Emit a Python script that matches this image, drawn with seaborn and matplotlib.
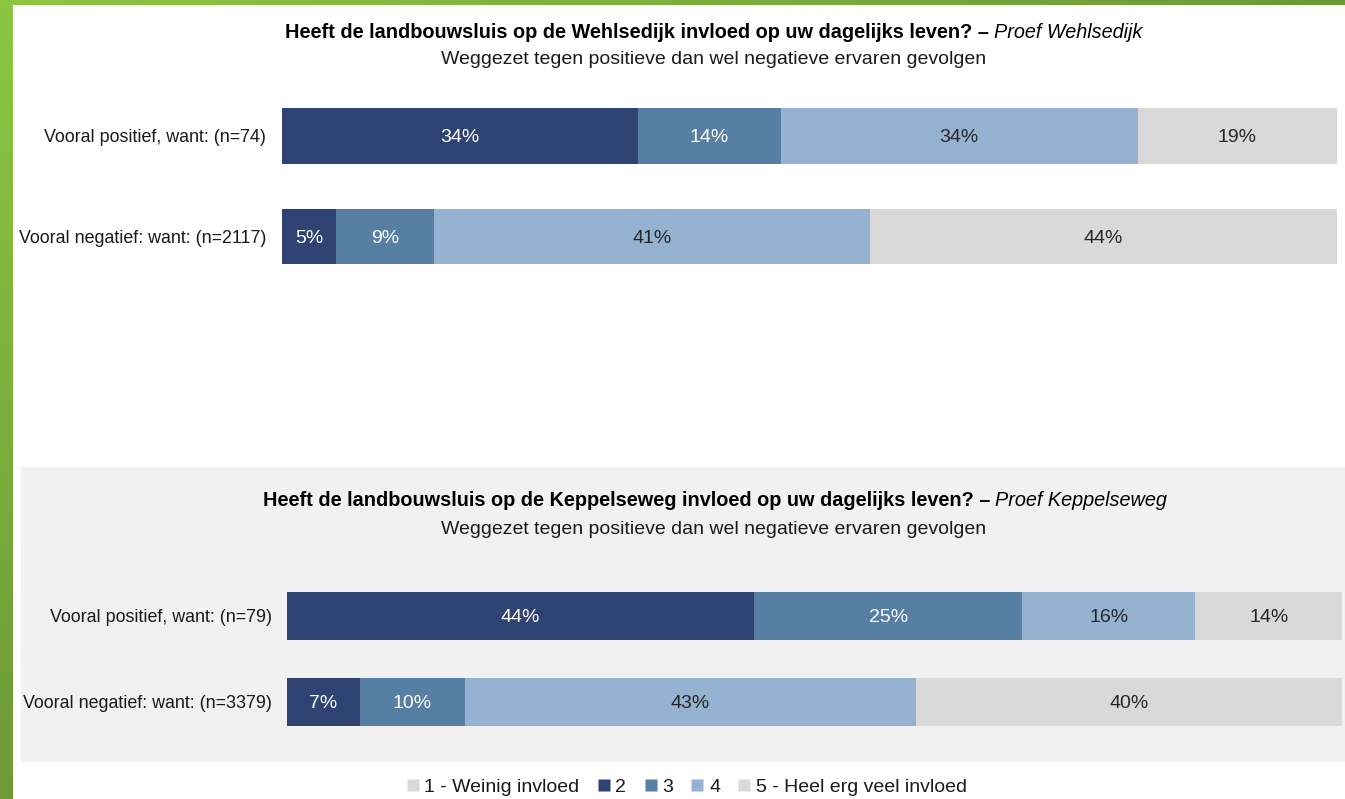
import matplotlib
matplotlib.use("Agg")
import matplotlib.pyplot as plt
import seaborn as sns
import pandas as pd
import numpy as np
from matplotlib.patches import Rectangle
from matplotlib.lines import Line2D
from matplotlib.colors import LinearSegmentedColormap

# ---------------- data ----------------
levels = ["1 - Weinig invloed", "2", "3", "4", "5 - Heel erg veel invloed"]
level_colors = ["#d9d9d9", "#2e4371", "#577ea3", "#95b3d0", "#d9d9d9"]
label_colors = ["#262626", "#ffffff", "#ffffff", "#262626", "#262626"]

cats_top = ["Vooral positief, want: (n=74)", "Vooral negatief: want: (n=2117)"]
top_l1 = [0.0, 0.0]
top_l2 = [33.7, 5.1]
top_l3 = [13.6, 9.3]
top_l4 = [33.8, 41.3]
top_l5 = [18.9, 44.3]

cats_bot = ["Vooral positief, want: (n=79)", "Vooral negatief: want: (n=3379)"]
bot_l1 = [0.0, 0.0]
bot_l2 = [44.3, 6.9]
bot_l3 = [25.4, 10.0]
bot_l4 = [16.4, 42.7]
bot_l5 = [13.9, 40.4]

title_top_bold = "Heeft de landbouwsluis op de Wehlsedijk invloed op uw dagelijks leven? \u2013"
title_top_it = "Proef Wehlsedijk"
title_bot_bold = "Heeft de landbouwsluis op de Keppelseweg invloed op uw dagelijks leven? \u2013"
title_bot_it = "Proef Keppelseweg"
subtitle = "Weggezet tegen positieve dan wel negatieve ervaren gevolgen"

# ---------------- style ----------------
sns.set_theme(style="white")
plt.rcParams["font.family"] = ["Liberation Sans", "DejaVu Sans"]

W, H = 1345, 799
fig = plt.figure(figsize=(W / 100, H / 100), dpi=100)
fig.patch.set_facecolor("white")


def fx(px):
    return px / W


def fy(py):
    return 1 - py / H


# green border (gradients) and grey panel behind the second chart
green = LinearSegmentedColormap.from_list("g", ["#8cc641", "#6c9a37"])
axl = fig.add_axes([0, 0, fx(13), 1], zorder=-10)
axl.imshow(np.linspace(0, 1, 100).reshape(-1, 1), aspect="auto", cmap=green,
           extent=[0, 1, 0, 1], origin="upper")
axl.set_axis_off()
axt = fig.add_axes([0, fy(5), 1, 5 / H], zorder=-10)
axt.imshow(np.linspace(0, 1, 100).reshape(1, -1), aspect="auto", cmap=green,
           extent=[0, 1, 0, 1])
axt.set_axis_off()
fig.patches.append(Rectangle((fx(21), fy(762)), fx(1345 - 21), (762 - 467) / H,
                             transform=fig.transFigure, facecolor="#f1f1f1",
                             edgecolor="none", zorder=-5))

TXT = 14


def draw_panel(rect, cats, series, pad):
    ax = fig.add_axes(rect)
    ax.set_facecolor("none")
    df = pd.DataFrame({"cat": cats})
    cum = [0.0] * len(cats)
    cums = []
    for s in series:
        cum = [c + v for c, v in zip(cum, s)]
        cums.append(list(cum))
    # draw from the largest cumulative to the smallest (overlapping stack)
    for i in range(len(series) - 1, -1, -1):
        d = df.copy()
        d["val"] = cums[i]
        sns.barplot(data=d, x="val", y="cat", orient="h", color=level_colors[i],
                    saturation=1, width=0.55, ax=ax, linewidth=0, zorder=2 + (len(series) - i))
    # labels
    for i, s in enumerate(series):
        for j, v in enumerate(s):
            if v <= 0:
                continue
            start = cums[i][j] - v
            ax.text(start + v / 2, j, f"{v:.0f}%", ha="center", va="center_baseline",
                    fontsize=TXT, color=label_colors[i], zorder=20)
    ax.set_xlim(0, 100)
    ax.set_ylim(1.5, -0.5)
    ax.set_xlabel("")
    ax.set_ylabel("")
    ax.set_xticks([])
    ax.tick_params(axis="y", length=0, pad=pad, labelsize=12.9, labelcolor="#1a1a1a")
    for sp in ax.spines.values():
        sp.set_visible(False)
    return ax


draw_panel([fx(282), fy(286.75), fx(1055), 201 / H], cats_top,
           [top_l1, top_l2, top_l3, top_l4, top_l5], pad=11.5)
draw_panel([fx(287), fy(745), fx(1055), 172 / H], cats_bot,
           [bot_l1, bot_l2, bot_l3, bot_l4, bot_l5], pad=11)


# titles
def title(y_bold, x_split, bold, it, y_sub):
    fig.text(fx(x_split), fy(y_bold), bold, ha="right", va="center_baseline",
             fontsize=14.3, fontweight="bold", color="#000000")
    fig.text(fx(x_split + 5), fy(y_bold), it, ha="left", va="center_baseline",
             fontsize=14.3, fontstyle="italic", color="#000000")
    fig.text(fx(714), fy(y_sub), subtitle, ha="center", va="center_baseline",
             fontsize=TXT, color="#1a1a1a")


title(30, 989, title_top_bold, title_top_it, 58)
title(499, 990, title_bot_bold, title_bot_it, 528)

# legend
handles = [Line2D([0], [0], marker="s", linestyle="none", markersize=8,
                  markerfacecolor=c, markeredgecolor="none") for c in level_colors]
fig.legend(handles, levels, loc="center", bbox_to_anchor=(fx(686), fy(787)),
           ncol=5, frameon=False, fontsize=TXT, handletextpad=0.2,
           columnspacing=0.85, handlelength=0.8, labelcolor="#1a1a1a")

fig.savefig("out.png", dpi=100, facecolor="white")
